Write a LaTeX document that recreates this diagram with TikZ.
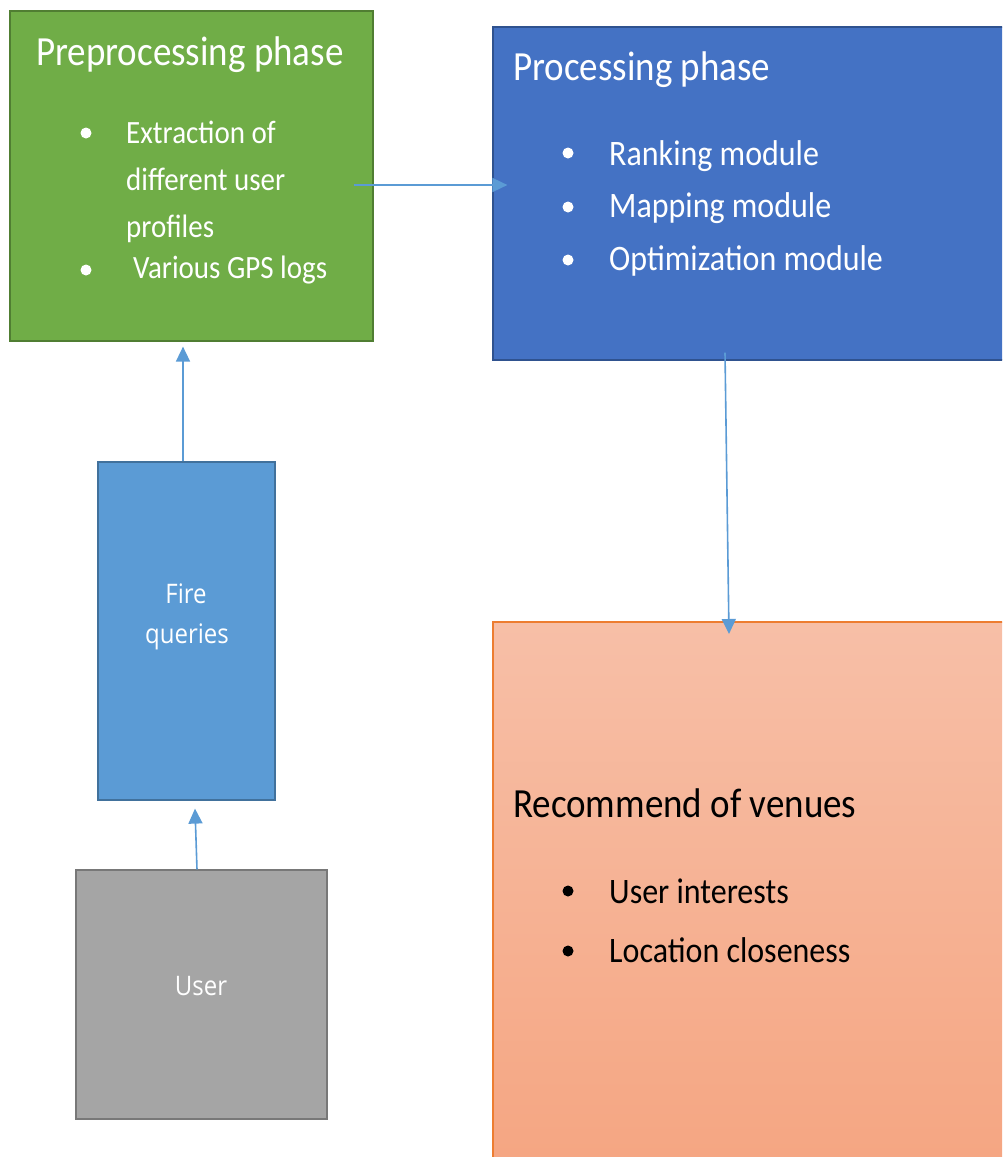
\documentclass[tikz,border=0pt]{standalone}
\usepackage{fontspec}
\setmainfont{Carlito}
\newfontfamily\segoe{Open Sans}
\usetikzlibrary{arrows.meta,calc}
\definecolor{grfill}{HTML}{70AD47}
\definecolor{grline}{HTML}{507E32}
\definecolor{blfill}{HTML}{4472C4}
\definecolor{blline}{HTML}{2F528F}
\definecolor{lbfill}{HTML}{5B9BD5}
\definecolor{lbline}{HTML}{41719C}
\definecolor{gyfill}{HTML}{A5A5A5}
\definecolor{gyline}{HTML}{787878}
\definecolor{ortop}{HTML}{F7BFA7}
\definecolor{orbot}{HTML}{F5A581}
\definecolor{orline}{HTML}{ED7D31}
\definecolor{arr}{HTML}{5B9BD5}
\newcommand{\vs}[1]{\scalebox{1}[1.12]{#1}}
\tikzset{
  boxnode/.style={rectangle, inner sep=0pt, line width=1.2pt},
  title/.style={anchor=base west, inner sep=0pt, font=\fontsize{37}{44}\selectfont},
  itemg/.style={anchor=base west, inner sep=0pt, text=white, font=\fontsize{29}{34}\selectfont},
  itemb/.style={anchor=base west, inner sep=0pt, font=\fontsize{32}{38}\selectfont},
  dot/.style={circle, inner sep=0pt, minimum size=11pt},
  conn/.style={draw=arr, line width=1.6pt, -{Triangle[length=15pt,width=14pt]}},
  small/.style={anchor=base, inner sep=0pt, text=white, font=\segoe\fontsize{24}{28}\selectfont}
}
\begin{document}
\begin{tikzpicture}[x=1pt,y=-1pt]
\useasboundingbox (0,0) rectangle (1002,1157);
\clip (0,0) rectangle (1002,1157);
% boxes
\node[boxnode, fill=grfill, draw=grline, minimum width=363pt, minimum height=330pt] (pre) at (191.5,176) {};
\node[boxnode, fill=blfill, draw=blline, minimum width=530pt, minimum height=333pt] (proc) at (758,193.5) {};
\node[boxnode, top color=ortop, bottom color=orbot, draw=orline, line width=2pt, minimum width=527pt, minimum height=558pt] (rec) at (756.5,901) {};
\node[boxnode, fill=lbfill, draw=lbline, minimum width=177pt, minimum height=338pt] (fire) at (186.5,631) {};
\node[boxnode, fill=gyfill, draw=gyline, minimum width=251pt, minimum height=249pt] (user) at (201.5,994.5) {};
% preprocessing texts
\node[title, text=white] (pret) at (36,65) {\vs{Preprocessing phase}};
\node[dot, fill=white] (pb1) at (86,133) {};
\node[itemg] (pi1) at (126,143) {\vs{Extraction of}};
\node[itemg] (pi2) at (126,190) {\vs{different user}};
\node[itemg] (pi3) at (126,237) {\vs{profiles}};
\node[dot, fill=white] (pb2) at (86,270) {};
\node[itemg] (pi4) at (133,278) {\vs{Various GPS logs}};
% processing texts
\node[title, text=white] (proct) at (513,80) {\vs{Processing phase}};
\node[dot, fill=white] (qb1) at (568,153) {};
\node[dot, fill=white] (qb2) at (568,207) {};
\node[dot, fill=white] (qb3) at (568,260) {};
\node[itemb, text=white] (qi1) at (609,165) {\vs{Ranking module}};
\node[itemb, text=white] (qi2) at (609,217) {\vs{Mapping module}};
\node[itemb, text=white] (qi3) at (609,270) {\vs{Optimization module}};
% recommend texts
\node[title, text=black] (rect) at (513,817) {\vs{Recommend of venues}};
\node[dot, fill=black] (rb1) at (568,891) {};
\node[dot, fill=black] (rb2) at (568,951) {};
\node[itemb, text=black] (ri1) at (609,903) {\vs{User interests}};
\node[itemb, text=black] (ri2) at (609,962) {\vs{Location closeness}};
% small boxes texts
\node[small] (ft1) at (186,603) {\vs{Fire}};
\node[small] (ft2) at (187,643) {\vs{queries}};
\node[small] (ut) at (201,995) {\vs{User}};
% connectors
\draw[conn] ($(pre.east)+(-20,9)$) -- ($(proc.west)+(15,-8.5)$);
\draw[conn] ($(fire.north)+(-3.5,0)$) -- ($(pre.south)+(-8.5,5)$);
\draw[conn] ($(user.north)+(-4.5,0)$) -- ($(fire.south)+(8.5,8)$);
\draw[conn] ($(proc.south)+(-33,-8)$) -- ($(rec.north)+(-27.5,13)$);
\end{tikzpicture}
\end{document}
